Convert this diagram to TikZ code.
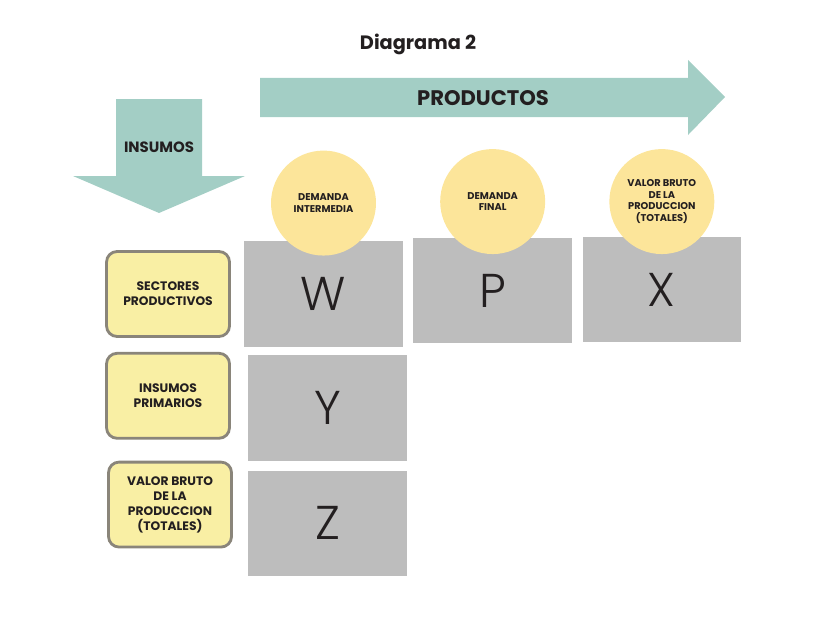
\documentclass[tikz,border=0pt]{standalone}
\usepackage{fontspec}
\setmainfont{Poppins}
\newfontfamily\thinfont{Poppins Light}
\usetikzlibrary{positioning}

\definecolor{bandteal}{HTML}{A3CEC5}
\definecolor{discyellow}{HTML}{FCE59A}
\definecolor{cellgray}{HTML}{BDBDBD}
\definecolor{tagyellow}{HTML}{F9EFA4}
\definecolor{tagedge}{HTML}{8A857A}
\definecolor{ink}{HTML}{231F20}

\begin{document}
\begin{tikzpicture}[
    x=0.02cm, y=-0.02cm,
    node distance=0.2cm and 0.2cm,
    cell/.style={rectangle, fill=cellgray, minimum width=3.17cm, minimum height=2.11cm, font=\thinfont\fontsize{27}{27}\selectfont, text=ink},
    disc/.style={circle, fill=discyellow, minimum size=2.1cm, inner sep=0pt, align=center, font=\fontsize{5.6}{6.6}\selectfont\bfseries, text=ink},
    tag/.style={rectangle, rounded corners=6pt, draw=tagedge, line width=1.6pt, fill=tagyellow, minimum width=2.46cm, minimum height=1.7cm, align=center, font=\fontsize{7}{8.5}\selectfont\bfseries, text=ink},
    band/.style={fill=bandteal},
    bandlabel/.style={font=\bfseries, text=ink},
]
\useasboundingbox (0,0) rectangle (817,635);

% ================== Title ==================
\node[font=\fontsize{11}{13}\selectfont\bfseries, text=ink] (title) at (418,44) {Diagrama 2};

% ================== Flow arrows ==================
\fill[band] (260,78) -- (688,78) -- (688,60) -- (725,97) -- (688,135) -- (688,117) -- (260,117) -- cycle;
\node[bandlabel, font=\fontsize{12}{14}\selectfont\bfseries] (prodLbl) at (483,98) {PRODUCTOS};

\fill[band] (116,99) -- (202,99) -- (202,176) -- (245,176) -- (159,213) -- (73,176) -- (116,176) -- cycle;
\node[bandlabel, font=\fontsize{8.5}{10}\selectfont\bfseries] (insLbl) at (159,147) {INSUMOS};

% ================== Matrix cells ==================
\node[cell] (W) at (323.5,294) {W};
\node[cell, right=of W, yshift=0.07cm] (P) {P};
\node[cell, right=of P, yshift=0.02cm] (X) {X};
\node[cell, below=0.16cm of W, xshift=0.08cm] (Y) {Y};
\node[cell, below=0.18cm of Y] (Z) {Z};

% ================== Column heads ==================
\node[disc, above=-0.3cm of W] (dW) {DEMANDA\\INTERMEDIA};
\node[disc, above=-0.34cm of P] (dP) {DEMANDA\\FINAL};
\node[disc, above=-0.36cm of X] (dX) {VALOR BRUTO\\DE LA\\PRODUCCION\\(TOTALES)};

% ================== Row labels ==================
\node[tag, left=0.26cm of W] (tW) {SECTORES\\PRODUCTIVOS};
\node[tag, below=0.28cm of tW] (tY) {INSUMOS\\PRIMARIOS};
\node[tag, below=0.42cm of tY, xshift=0.04cm] (tZ) {VALOR BRUTO\\DE LA\\PRODUCCION\\(TOTALES)};

\end{tikzpicture}
\end{document}
